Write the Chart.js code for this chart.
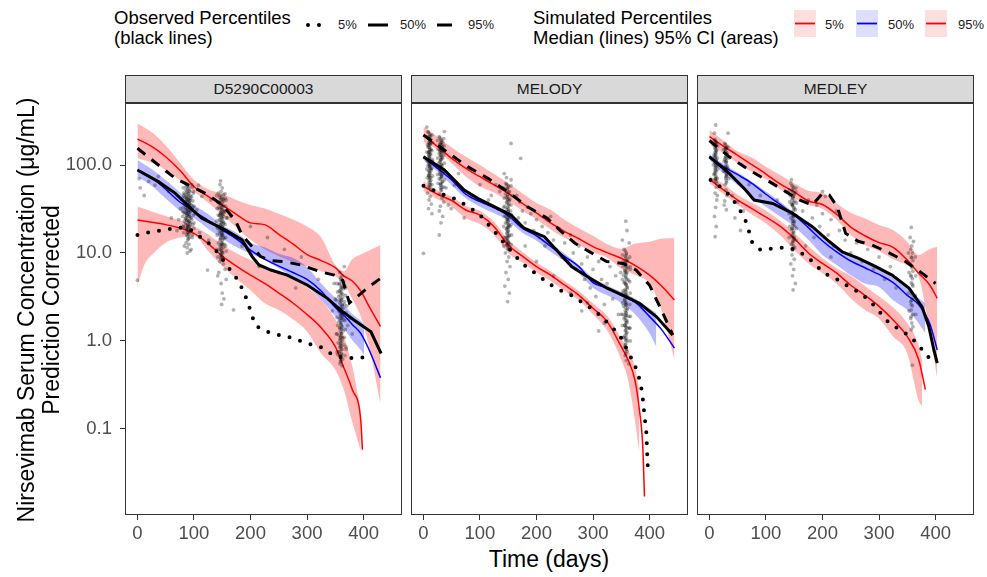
<!DOCTYPE html>
<html>
<head>
<meta charset="utf-8">
<script src="https://cdn.jsdelivr.net/npm/chart.js@4.4.0/dist/chart.umd.min.js"></script>
<style>
  body { margin:0; width:987px; height:577px; background:#fff; position:relative; overflow:hidden;
         font-family:"Liberation Sans", Arial, sans-serif; }
  canvas { position:absolute; }
  .t { position:absolute; white-space:nowrap; color:#000; }
  .strip { position:absolute; top:75px; height:28px; background:#d9d9d9; border:1px solid #333;
           box-sizing:border-box; color:#1a1a1a; font-size:15.5px; text-align:center; line-height:26px; }
</style>
</head>
<body>
<div id="root"></div>
<script>
// ---------------- data ----------------
const panelNames = ['D5290C00003', 'MELODY', 'MEDLEY'];
const xTickValues = [0, 100, 200, 300, 400];
const yTickValues = [0.1, 1, 10, 100];
const yTickLabels = ['0.1', '1.0', '10.0', '100.0'];

// ----- Panel 1: D5290C00003 -----
const p1SimDays = [0,25,50,75,100,125,150,175,200,225,250,275,300,325,350,365,380,395,410,430];
const p1Sim95Med = [197,163,124,87,57,44,35,27.5,22,21,16.3,12.7,9.6,8.2,6.8,5.5,4.8,3.7,2.45,1.46];
const p1Sim95Hi  = [297,237,167,107,68,53,47,40,35,32,28,24,20,15,7.3,6.2,8.5,9.6,10.7,12.3];
const p1Sim95Lo  = [119,106,88,67,50,37.3,27.4,19.4,14.1,11.0,9.2,7.9,7.0,6.2,5.4,4.6,3.0,1.9,0.85,0.19];
const p1Sim50Med = [87.8,71.8,53,38,29.6,23.5,18.2,14.5,10.8,8.5,7.1,6.0,5.0,3.7,2.4,1.96,1.54,1.22,0.79,0.38];
const p1Band50Days = [0,25,50,75,100,125,150,175,200,225,250,275,300,325,350,365,380,395,401];
const p1Sim50Hi = [114,90,67.6,48.9,35,27.7,20.7,17.0,13.1,11.6,9.8,8.8,6.9,4.5,3.1,2.6,2.03,1.70,1.52];
const p1Sim50Lo = [73.6,58,41.5,30.3,24.8,18.9,14.6,11.7,9.8,8.3,6.7,5.3,4.2,2.9,1.89,1.39,1.02,0.79,0.69];
const p1Sim5Days = [0,25,50,75,100,125,150,175,200,225,250,275,300,325,350,365,380,395,398];
const p1Sim5Med = [23.7,22.3,21,19.2,16.7,12.8,9.2,7.1,5.6,4.5,3.5,2.7,2.0,1.41,0.86,0.50,0.28,0.126,0.058];
const p1Band5Days = [0,13,25,50,75,100,125,150,175,200,225,250,275,300,325,350,365,380,395];
const p1Sim5Hi = [33.6,31.7,29.7,26.4,23.5,20.1,16.2,12.4,9.9,8.3,7.1,6.0,5.0,4.1,2.9,1.77,1.14,0.52,0.166];
const p1Sim5Lo = [4.3,7.5,9.4,13.1,15.0,15.7,10.5,7.1,5.1,3.77,2.68,2.25,1.76,1.28,0.72,0.47,0.28,0.12,0.057];
const p1Obs95Days = [0,37,67,96,126,150,173,185,203,218,236,259,289,324,348,363,375,389,413,431];
const p1Obs95 = [155,100,70.5,56.8,45.6,35,23.7,16,11.8,9.1,8.2,8.0,7.3,6.1,5.6,4.9,2.7,3.2,4.3,5.2];
const p1Obs50Days = [0,37,67,91,114,156,185,203,215,236,265,301,336,359,383,413,431];
const p1Obs50 = [87.8,64.7,47.6,33.6,24.8,18.2,14.1,9.1,7.3,6.4,5.6,4.3,3.05,2.25,1.73,1.27,0.72];
const p1Obs5Days = [0,25,48,71,93,109,125,141,162,178,188,196,203,211,236,265,301,324,345,366,386,410];
const p1Obs5 = [16.0,17.5,18.2,19.6,18.6,15.6,13.1,10.3,6.7,4.9,3.6,2.68,1.89,1.46,1.22,1.12,0.94,0.85,0.70,0.64,0.64,0.66];
const p1Points = [
  [0,4.9],[3,70],[5,55],[12,45],[20,65],[31,59],[37,74],[55,50],[70,18],[73,24],[76,32],[60,25],
  [85,62],[88,58],[91,55],[86,52],[93,50],[89,48],[84,46],[90,44],[94,42],[87,41],[92,39],[85,38],
  [89,36],[95,35],[88,34],[91,33],[86,31],[93,30],[90,29],[84,28],[88,27],[92,26],[95,25],[87,24],
  [90,23],[85,22],[93,21.5],[89,21],[91,20],[86,19],[94,18.5],[88,18],[90,17],[87,16],[92,15],[89,14],
  [86,13],[91,12.5],[88,11.5],[93,10.5],[87,44],[90,40],[92,36],[88,30],[86,25],[91,23],[89,19.5],
  [86,57],[89,53],[92,51],[87,49],[90,47],[93,45],[85,43],[88,42],[91,41],[94,40],[86,39],[89,38],[92,37],
  [87,35.5],[90,34.5],[93,33.5],[85,32.5],[88,31.5],[91,30.5],[94,29.5],[86,28.5],[89,28],[92,27.5],[87,26.5],
  [90,26],[93,25],[85,24.5],[88,23.5],[91,22.5],[94,22],[86,21],[89,20.5],[92,20],[87,19],[90,18.5],[93,17.5],
  [88,17],[91,16.5],[89,15.5],[90,14.5],
  [81,55],[82,48],[80,42],[83,37],[81,33],[82,29],[80,26],[83,23],[81,20],[82,17],[97,56],[99,50],[96,44],
  [98,39],[100,34],[97,31],[99,27],[96,24],[98,21],[100,19],[97,16],
  [80,30],[82,45],[98,33],[100,22],[97,15],[83,12],[96,60],[99,48],[81,20],[95,11],[88,10],[102,28],
  [108,59],[114,44],[105,31],[120,24],[126,14],[110,17],[130,40],[124,6.4],
  [146,60],[150,55],[148,50],[152,46],[145,43],[149,41],[153,39],[147,37],[151,35],[144,33],[150,31],
  [154,30],[148,28],[146,27],[152,26],[149,25],[145,24],[151,23],[153,22],[147,21],[150,20],[148,19],
  [152,18],[145,17.5],[149,17],[151,16],[147,15],[153,14.5],[146,14],[150,13],[148,12],[152,11.5],
  [145,11],[149,10.5],[151,10],[147,9.5],[150,9],[148,8.5],[146,8],[152,7.5],[149,33],[147,29],[151,27],
  [148,22],[150,16],[149,12.5],
  [146,45],[149,43],[152,41],[147,40],[150,38],[145,36],[148,35],[151,34],[146,32],[149,31],[152,29.5],
  [147,28.5],[150,27.5],[145,26.5],[148,25.5],[151,24.5],[146,23.5],[149,22.5],[152,21.5],[147,20.5],
  [150,19.5],[145,19],[148,18],[151,17.5],[146,16.5],[149,16],[152,15],[147,14.5],[150,14],[148,13],
  [151,12.5],[146,12],[149,11.2],[147,10.8],[150,10.2],[148,9.8],[149,9.2],[147,8.8],
  [140,45],[142,38],[141,32],[143,27],[140,23],[142,19],[141,16],[143,13],[140,11],[142,9],[155,47],[157,40],
  [156,34],[154,29],[158,25],[155,21],[157,18],[156,15],[154,12.5],[157,10.5],
  [142,5.5],[155,6.5],[148,4.5],[150,3.5],[157,5],[144,6],[153,3],[149,2.6],[156,12],[141,20],[158,25],
  [143,48],[155,42],[147,66],
  [165,26],[175,15],[185,12],[170,2.25],[200,20],[230,15],[260,11],[290,9],[320,5],[250,6],[280,4],[215,7],
  [358,6],[362,5.5],[360,5],[365,4.7],[357,4.4],[361,4.1],[364,3.9],[359,3.6],[363,3.4],[356,3.2],[360,3.0],
  [366,2.8],[358,2.7],[362,2.5],[364,2.35],[357,2.2],[361,2.05],[359,1.95],[363,1.85],[365,1.75],[356,1.65],
  [360,1.55],[362,1.45],[358,1.38],[364,1.3],[361,1.22],[357,1.15],[363,1.08],[359,1.02],[360,0.95],[365,0.9],
  [358,0.85],[362,0.8],[356,0.75],[361,0.7],[359,0.66],[363,0.62],[360,0.58],[358,0.55],[362,0.52],
  [360,3.8],[361,2.9],[359,2.3],[360,1.8],[361,1.4],[360,1.1],[359,0.88],
  [359,5.2],[361,4.8],[358,4.5],[362,4.2],[360,4.0],[357,3.7],[361,3.5],[359,3.3],[363,3.1],[358,2.95],
  [360,2.8],[362,2.6],[359,2.45],[361,2.3],[357,2.15],[360,2.0],[362,1.9],[358,1.8],[361,1.7],[359,1.6],
  [360,1.5],[358,1.42],[362,1.35],[359,1.27],[361,1.2],[360,1.12],[358,1.05],[362,1.0],[359,0.93],[361,0.87],
  [360,0.81],[358,0.76],[361,0.72],[359,0.68],[360,0.63],[359,0.59],
  [353,4.5],[354,3.6],[352,2.9],[355,2.3],[353,1.85],[354,1.5],[352,1.2],[355,0.95],[353,0.75],[367,4.2],
  [368,3.3],[366,2.6],[369,2.1],[367,1.7],[368,1.35],[366,1.1],[369,0.85],[367,0.68],
  [350,3],[370,2.5],[372,1.5],[368,4],[353,1.2],[375,1.8],[348,4.5],[366,7],[369,0.8],[354,0.7],[380,1.2],[345,2.2]
];

// ----- Panel 2: MELODY -----
const p2SimDays = [0,25,50,75,100,125,150,175,200,225,250,275,300,325,350,375,400,420,444];
const p2Sim95Med = [219,162,119,91.6,73.6,59.4,47.6,36.6,28.5,22.0,17.5,14.5,11.8,10.1,8.7,7.2,5.6,4.3,2.92];
const p2Sim95Hi  = [273,210,158,124,100,79,62,47.6,37,31,23.7,19.1,15.7,12.6,11.2,12.8,13.4,14.5,14.8];
const p2Sim95Lo  = [184,148,104,74,57,48.5,39,30.3,24.2,18.5,14.8,12.3,10.1,8.9,6.6,5.6,4.5,2.35,0.61];
const p2Sim50Med = [122,91.6,67.6,46.5,38.3,32.5,26.5,19.1,15.7,11.9,9.1,7.0,4.6,4.0,3.3,2.75,1.89,1.38,0.83];
const p2Band50Days = [0,25,50,75,100,125,150,175,200,225,250,275,300,325,350,375,400,412];
const p2Sim50Hi = [130,99,72,51,42,35,28.2,20.8,16.7,12.9,9.8,7.3,5.2,4.3,3.6,3.0,2.35,2.06];
const p2Sim50Lo = [114,84,59,41.8,33.6,28.2,23.3,17.0,13.8,10.3,8.0,5.9,4.0,3.3,2.7,2.0,1.22,0.86];
const p2Sim5Days = [0,25,50,75,100,125,150,175,200,225,250,275,300,325,350,362,374,382,388,391];
const p2Sim5Med = [57,46.5,39.5,30.8,26.9,19.9,12.3,9.2,7.0,5.6,4.3,3.3,2.35,1.66,0.86,0.61,0.36,0.165,0.063,0.017];
const p2Band5Days = [0,25,50,75,100,125,150,175,200,225,250,275,300,325,350,362,374,382];
const p2Sim5Hi = [65.7,51.5,43.6,34.5,30.3,22.7,14.1,10.3,7.8,6.2,4.8,3.7,2.68,1.93,1.07,0.79,0.51,0.28];
const p2Sim5Lo = [51,40.7,33.6,24.8,21.3,16.0,10.0,7.8,6.0,4.8,3.7,2.86,2.0,1.31,0.61,0.36,0.126,0.053];
const p2Obs95Days = [0,37,78,114,149,184,219,244,268,294,324,353,376,400,421,441];
const p2Obs95 = [219,148,95.8,70.5,49.8,33.6,24.8,17.5,12.9,10.3,8.0,7.6,6.4,4.3,2.25,1.17];
const p2Obs50Days = [0,37,72,96,125,155,178,214,238,262,294,324,353,382,412,441];
const p2Obs50 = [124,87.8,52,41.8,33.6,27.1,19.1,15.3,10.3,7.0,5.2,4.0,3.3,2.68,1.89,1.17];
const p2Obs5Days = [0,37,61,81,99,115,131,146,169,185,203,221,241,262,279,297,315,329,347,365,374,381,386,389,391,394,396,397];
const p2Obs5 = [58,45.6,40,33,27.5,21.0,16.0,12.3,8.3,6.7,5.6,4.5,3.8,3.3,2.8,2.35,1.89,1.52,1.17,0.69,0.53,0.39,0.28,0.196,0.14,0.1,0.049,0.036];
const p2Points = [
  [8,240],[11,225],[9,205],[13,195],[10,180],[12,170],[8,160],[14,150],[10,142],[12,135],[9,128],[11,120],
  [13,112],[10,105],[8,98],[12,92],[14,88],[11,82],[9,77],[13,72],[10,68],[12,64],[11,60],[9,56],[13,52],
  [10,200],[11,150],[10,118],[11,95],[10,75],[12,110],[9,140],[11,175],
  [9,235],[12,215],[10,198],[11,188],[13,178],[9,168],[11,158],[12,148],[10,138],[13,131],[11,124],[9,116],
  [12,108],[10,101],[11,96],[13,90],[9,86],[12,80],[10,76],[11,71],[13,67],[10,63],[12,59],[11,55],[10,130],
  [12,100],[11,85],[10,160],[12,190],[11,210],
  [6,210],[7,170],[6,140],[7,110],[6,90],[7,72],[15,220],[16,180],[15,145],[16,115],[15,92],[16,75],[15,60],
  [7,48],[12,44],[10,40],[14,36],[9,32],[15,28],[6,270],[16,110],[0,9.9],
  [28,210],[31,195],[34,182],[29,170],[33,160],[30,150],[35,142],[28,135],[32,128],[34,120],[30,112],[27,105],
  [33,98],[31,92],[29,86],[35,80],[32,75],[28,70],[34,65],[30,60],[33,56],[31,52],
  [31,180],[32,145],[31,115],[30,90],[32,72],[31,62],[30,125],
  [29,205],[32,190],[30,176],[33,165],[31,155],[29,146],[32,138],[30,130],[33,122],[31,116],[29,108],[32,102],
  [30,96],[33,90],[31,84],[29,79],[32,74],[30,69],[33,64],[31,59],[30,55],[32,52],[31,100],[30,140],[32,170],[31,78],
  [25,190],[26,150],[25,120],[26,95],[25,78],[26,62],[36,200],[37,165],[36,130],[37,105],[36,85],[37,68],[36,56],
  [29,47],[33,42],[36,38],[30,34],[28,30],[34,26],[31,22],[28,16],[37,240],[40,55],[44,35],
  [55,59],[72,25],[49,32],[62,80],[85,45],[100,60],[115,40],[128,60],[120,45],[135,50],
  [146,62],[150,58],[148,54],[152,50],[145,47],[149,44],[153,41],[147,38],[151,36],[144,34],[150,32],[154,30],
  [148,28],[146,26],[152,25],[149,23],[145,22],[151,21],[153,20],[147,19],[150,18],[148,17],[152,16],[146,15],
  [149,14],[151,13],[147,12.3],[153,11.6],[150,11],[149,40],[150,30],[149,24],[150,19.5],[149,15.5],[150,12.8],
  [147,60],[150,56],[148,52],[151,49],[149,46],[147,43],[150,41],[152,39],[148,37],[151,35],[149,33],[147,31],
  [150,29.5],[148,28],[151,26.5],[149,25],[147,24],[150,22.5],[148,21.5],[151,20.5],[149,19.5],[147,18.5],
  [150,17.5],[148,16.5],[151,15.5],[149,14.8],[147,14],[150,13.3],[148,12.6],[149,12],[150,11.4],
  [142,55],[143,42],[142,33],[143,26],[142,20],[143,15],[142,12],[155,58],[156,45],[155,35],[156,27],[155,21],
  [156,16],[155,12.5],
  [145,10],[151,9],[148,8],[153,7],[146,6],[150,5],[144,4.2],[152,3.5],[149,2.8],[155,176],[147,72],[155,68],[143,80],
  [172,119],[165,45],[170,38],[175,30],[168,25],[180,22],[185,33],[190,28],[195,18],[200,24],[205,15],[210,20],
  [215,12],[220,17],[225,26],[230,14],[235,11],[240,19],[245,9],[250,13],[255,8],[260,16],[265,10],[270,6.5],
  [275,12],[280,7.5],[285,5],[290,9],[295,4],[300,6.5],[305,3.2],[310,8],[315,5],[320,2.6],[325,4.5],[330,7],
  [335,3],[340,5.5],[345,2],[180,12],[200,8],[230,5.5],[260,3.5],[290,2.7],[320,1.6],[310,1.3],[280,2.2],
  [355,11],[359,10],[357,9.2],[361,8.5],[353,8],[358,7.4],[362,6.9],[356,6.4],[360,6],[354,5.6],[358,5.2],
  [363,4.9],[355,4.6],[359,4.3],[361,4],[357,3.7],[353,3.5],[360,3.3],[362,3.1],[356,2.9],[358,2.7],[354,2.5],
  [361,2.35],[357,2.2],[359,2.05],[363,1.9],[355,1.8],[360,1.7],[358,1.6],[356,1.5],[362,1.4],[357,1.3],
  [359,1.2],[355,1.1],[361,1.0],[358,0.92],[356,0.85],[360,0.76],[357,0.68],[359,0.6],
  [358,8],[357,6],[358,4.5],[357,3.4],[358,2.6],[357,1.95],[358,1.45],[357,1.05],
  [357,10.5],[359,9.6],[358,8.8],[360,8.1],[356,7.6],[358,7.0],[360,6.6],[357,6.2],[359,5.8],[358,5.4],[360,5.0],
  [356,4.7],[358,4.4],[360,4.1],[357,3.85],[359,3.6],[358,3.35],[360,3.15],[356,2.95],[358,2.75],[359,2.55],
  [357,2.4],[360,2.25],[358,2.1],[359,1.95],[357,1.85],[358,1.72],[360,1.62],[357,1.52],[359,1.42],[358,1.33],
  [360,1.25],[357,1.16],[359,1.08],[358,1.0],[357,0.9],[359,0.8],[358,0.72],
  [352,9.5],[353,7],[352,5],[353,3.7],[352,2.7],[353,2],[352,1.5],[353,1.1],[365,9],[366,6.5],[365,4.7],
  [366,3.5],[365,2.6],[366,1.9],[365,1.4],[366,1.0],
  [358,23],[360,18],[352,14],[364,13],[366,7],[349,6],[367,3],[350,2],[365,1.4],[363,0.55]
];

// ----- Panel 3: MEDLEY -----
const p3SimDays = [0,25,50,75,100,125,150,175,200,225,250,275,300,325,350,370,390,403];
const p3Sim95Med = [210,163,129,101,79,61,49.4,39,35.6,27.5,19.7,15.7,13.1,11.6,8.3,5.9,4.3,3.05];
const p3Sim95Hi  = [250,189,142,122,95.8,77,61.9,51,48,36.6,28.7,24.8,20.8,18.1,13.4,9.5,11.1,11.8];
const p3Sim95Lo  = [176,135,104,84,69,53,41.8,35,31.8,23.7,16.0,12.3,10.5,8.5,7.2,5.4,1.22,0.37];
const p3Sim50Med = [126,95.8,77.6,61.9,46.5,35.6,27.1,19.4,13.7,10.3,8.1,6.8,5.7,4.6,3.3,2.6,1.56,0.79];
const p3Band50Days = [0,25,50,75,100,125,150,175,200,225,250,275,300,325,350,370,382];
const p3Sim50Hi = [133,102,82,64.6,50,38.3,28.7,20.8,15.3,11.8,9.5,8.3,7.0,5.4,4.0,3.05,2.68];
const p3Sim50Lo = [115,80,59,43.6,33.6,25.9,19.9,14.1,9.5,7.3,5.6,4.5,4.1,2.9,2.25,1.59,1.22];
const p3Sim5Days = [0,25,50,75,100,125,150,175,200,225,250,275,300,325,350,370,382];
const p3Sim5Med = [69,52,40,32,25.5,20.2,14.6,10.0,7.6,5.9,4.3,3.3,2.47,1.73,1.12,0.62,0.28];
const p3Band5Days = [0,25,50,75,100,125,150,175,200,225,250,275,300,325,350,370,376];
const p3Sim5Hi = [75,61,46,37.3,30.3,23.3,17.0,12.0,8.7,6.7,5.5,4.2,3.2,2.4,1.59,0.90,0.61];
const p3Sim5Lo = [61.9,46.7,35,27.4,21.7,16.0,10.8,7.6,5.9,4.5,3.05,2.25,1.8,1.12,0.72,0.21,0.18];
const p3Obs95Days = [0,35,70,106,135,159,182,200,212,226,241,264,288,317,347,376,400];
const p3Obs95 = [190,124,87.8,64.7,49.8,40,35,47.6,45.6,33.6,16.7,13.5,12.3,10.1,8.0,5.9,4.5];
const p3Obs50Days = [0,35,64,79,112,147,182,212,235,264,294,323,353,376,388,397,403];
const p3Obs50 = [124,80.4,52,40,36.6,28.2,19.9,13.5,10.3,8.7,7.0,5.6,4.0,2.45,1.46,0.79,0.56];
const p3Obs5Days = [2,23,38,51,63,70,76,91,114,138,153,173,188,203,229,247,267,285,303,317,338,356,369,385,397];
const p3Obs5 = [67.6,54.5,43.6,33,24.2,17.5,12.9,10.8,11.3,11.6,10.8,9.1,7.3,5.9,4.9,4.1,3.5,2.8,2.06,1.62,1.33,1.12,0.9,0.69,0.53];
const p3Points = [
  [9,190],[12,175],[10,160],[13,148],[11,136],[9,125],[12,115],[10,105],[13,96],[11,88],[9,80],[12,73],[10,67],[13,62],
  [11,180],[10,140],[11,110],[10,85],[11,70],
  [10,195],[12,182],[11,168],[10,155],[12,143],[11,131],[10,120],[12,110],[11,100],[10,92],[12,84],[11,77],
  [10,70],[12,65],[11,150],[11,125],[11,95],
  [7,170],[8,130],[7,100],[8,78],[15,165],[14,120],[15,90],[14,70],
  [11,285],[9,230],[12,56],[10,48],[13,40],[11,33],[9,26],[12,20],[10,15.3],[14,45],
  [27,176],[30,162],[28,150],[31,138],[29,126],[27,116],[30,106],[32,97],[28,88],[31,80],[29,73],[30,66],[28,60],
  [29,155],[30,120],[29,95],[30,75],
  [28,170],[30,156],[29,144],[31,132],[28,121],[30,111],[29,101],[31,92],[28,84],[30,77],[29,70],[30,63],
  [29,135],[29,110],
  [25,150],[26,110],[25,85],[33,160],[34,120],[33,90],[34,70],
  [29,52],[31,45],[27,39],[30,31],[33,230],[26,35],
  [40,45],[50,38],[60,30],[20,100],[45,25],[55,18],[70,60],[90,45],[120,40],
  [144,62],[148,57],[146,52],[150,48],[143,45],[147,42],[151,39],[145,36],[149,33],[152,31],[146,29],[148,27],
  [144,25],[150,23],[147,21.5],[151,20],[145,18.5],[149,17],[146,15.5],[150,14.5],[148,13.5],[145,12.5],
  [151,11.5],[147,10.8],[148,44],[147,35],[148,26],[147,19],[148,15],
  [146,58],[149,54],[147,50],[150,46],[148,43],[146,40],[149,37.5],[147,34.5],[150,32],[148,30],[146,28],
  [149,26],[147,24],[150,22],[148,20.5],[146,19],[149,17.8],[147,16.5],[150,15.2],[148,14],[147,13],[149,12],
  [148,11.2],[147,36],[148,23],
  [141,52],[142,38],[141,28],[142,20],[141,15],[153,50],[154,37],[153,27],[154,19],[153,14],
  [146,9.5],[150,8.5],[144,7.5],[149,6.5],[147,5.5],[152,4.5],[148,3.8],[145,68],[153,55],
  [165,30],[175,40],[182,25],[190,35],[195,20],[200,28],[205,44],[210,16],[215,24],[220,12],[225,30],[230,18],
  [240,14],[250,10],[260,13],[270,8],[280,11],[290,6.5],[300,9],[310,5],[320,7],[330,4],[185,15],[170,12],
  [200,50],[215,9],
  [357,19.5],[355,15],[361,13.5],[356,11],[359,10],[357,9],[360,8.2],[355,7.5],[358,6.8],[360,6.2],[356,5.6],
  [359,5.1],[357,4.6],[360,4.2],[355,3.8],[358,3.4],[360,3.1],[356,2.8],[359,2.5],[357,2.25],[360,2.0],
  [356,1.8],[358,1.6],[360,1.45],[357,1.34],[359,0.53],[358,8.8],[357,5.4],[358,3.6],[357,2.6],
  [358,12],[357,7.2],[359,4.4],[358,2.9],[357,1.9],
  [352,10],[353,6],[352,3.5],[353,2.2],[364,9],[365,5.5],[364,3.3],[365,2.0]
];

// ---------------- rendering ----------------
const FONT = "'Liberation Sans', Arial, sans-serif";
const xy = (xs, ys) => xs.map((x, i) => ({ x: x, y: ys[i] }));
const pr = (arr) => arr.map(p => ({ x: p[0], y: p[1] }));

const panels = [
  { name: panelNames[0], left: 0, width: 402, showY: true,
    simDays: p1SimDays, s95: p1Sim95Med, s95hi: p1Sim95Hi, s95lo: p1Sim95Lo, s50: p1Sim50Med,
    b50d: p1Band50Days, s50hi: p1Sim50Hi, s50lo: p1Sim50Lo, s5d: p1Sim5Days, s5: p1Sim5Med,
    b5d: p1Band5Days, s5hi: p1Sim5Hi, s5lo: p1Sim5Lo,
    o95: xy(p1Obs95Days, p1Obs95), o50: xy(p1Obs50Days, p1Obs50), o5: xy(p1Obs5Days, p1Obs5), pts: pr(p1Points) },
  { name: panelNames[1], left: 411, width: 277, showY: false,
    simDays: p2SimDays, s95: p2Sim95Med, s95hi: p2Sim95Hi, s95lo: p2Sim95Lo, s50: p2Sim50Med,
    b50d: p2Band50Days, s50hi: p2Sim50Hi, s50lo: p2Sim50Lo, s5d: p2Sim5Days, s5: p2Sim5Med,
    b5d: p2Band5Days, s5hi: p2Sim5Hi, s5lo: p2Sim5Lo,
    o95: xy(p2Obs95Days, p2Obs95), o50: xy(p2Obs50Days, p2Obs50), o5: xy(p2Obs5Days, p2Obs5), pts: pr(p2Points) },
  { name: panelNames[2], left: 697, width: 277, showY: false,
    simDays: p3SimDays, s95: p3Sim95Med, s95hi: p3Sim95Hi, s95lo: p3Sim95Lo, s50: p3Sim50Med,
    b50d: p3Band50Days, s50hi: p3Sim50Hi, s50lo: p3Sim50Lo, s5d: p3Sim5Days, s5: p3Sim5Med,
    b5d: p3Band5Days, s5hi: p3Sim5Hi, s5lo: p3Sim5Lo,
    o95: xy(p3Obs95Days, p3Obs95), o50: xy(p3Obs50Days, p3Obs50), o5: xy(p3Obs5Days, p3Obs5), pts: pr(p3Points) }
];

const boxPlugin = {
  id: 'box',
  afterDraw(chart) {
    const a = chart.chartArea, c = chart.ctx;
    c.save(); c.strokeStyle = '#333'; c.lineWidth = 1;
    c.strokeRect(a.left + 0.5, a.top + 0.5, a.right - a.left - 1, a.bottom - a.top - 1);
    c.restore();
  }
};

const RED = '#ff0000', BLUE = '#0000ff';
const PINK = 'rgba(255,0,0,0.28)', LBLUE = 'rgba(0,0,255,0.28)';
const NONE = 'rgba(0,0,0,0)';

function line(data, color, width, extra) {
  return Object.assign({ data: data, borderColor: color, borderWidth: width, pointRadius: 0,
    fill: false, tension: 0 }, extra || {});
}

function build(P) {
  const ds = [];
  ds.push(line(P.o5, '#000', 4, { borderDash: [0, 11], borderCapStyle: 'round' }));
  ds.push(line(P.o50, '#000', 3));
  ds.push(line(P.o95, '#000', 3, { borderDash: [10, 8] }));
  ds.push({ data: P.pts, showLine: false, pointRadius: 1.9, pointBorderWidth: 0,
            pointBackgroundColor: 'rgba(0,0,0,0.3)' });
  const smooth = { cubicInterpolationMode: 'monotone' };
  ds.push(line(xy(P.s5d, P.s5), RED, 1.5, smooth));
  ds.push(line(xy(P.simDays, P.s50), BLUE, 1.5, smooth));
  ds.push(line(xy(P.simDays, P.s95), RED, 1.5, smooth));
  ds.push(line(xy(P.b5d, P.s5lo), NONE, 0, smooth));
  ds.push(line(xy(P.b5d, P.s5hi), NONE, 0, Object.assign({ fill: '-1', backgroundColor: PINK }, smooth)));
  ds.push(line(xy(P.b50d, P.s50lo), NONE, 0, smooth));
  ds.push(line(xy(P.b50d, P.s50hi), NONE, 0, Object.assign({ fill: '-1', backgroundColor: LBLUE }, smooth)));
  ds.push(line(xy(P.simDays, P.s95lo), NONE, 0, smooth));
  ds.push(line(xy(P.simDays, P.s95hi), NONE, 0, Object.assign({ fill: '-1', backgroundColor: PINK }, smooth)));
  return ds;
}

function zeroPad(s) { s.paddingTop = 0; s.paddingBottom = 0; s.paddingLeft = 0; s.paddingRight = 0; }

const root = document.getElementById('root');
panels.forEach((P, idx) => {
  const cv = document.createElement('canvas');
  cv.width = P.width; cv.height = 442;
  cv.style.left = P.left + 'px'; cv.style.top = '103px';
  cv.style.width = P.width + 'px'; cv.style.height = '442px';
  root.appendChild(cv);

  const strip = document.createElement('div');
  strip.className = 'strip';
  const chartLeft = P.showY ? 125 : P.left;
  strip.style.left = chartLeft + 'px';
  strip.style.width = (P.left + P.width - chartLeft) + 'px';
  strip.textContent = P.name;
  root.appendChild(strip);

  new Chart(cv, {
    type: 'line',
    data: { datasets: build(P) },
    plugins: [boxPlugin],
    options: {
      responsive: false, animation: false, devicePixelRatio: 1, events: [],
      layout: { padding: 0, autoPadding: false },
      plugins: { legend: { display: false }, tooltip: { enabled: false } },
      scales: {
        x: {
          type: 'linear', min: -22, max: 468,
          afterBuildTicks: s => { s.ticks = xTickValues.map(v => ({ value: v })); },
          afterFit: s => { s.height = 30; zeroPad(s); },
          ticks: { color: '#4d4d4d', font: { family: FONT, size: 18.5 }, padding: 3,
                   maxRotation: 0, autoSkip: false, callback: v => String(v) },
          grid: { display: true, drawOnChartArea: false, drawTicks: true, tickLength: 5, color: '#333', lineWidth: 1 },
          border: { display: false }
        },
        y: {
          type: 'logarithmic', min: 0.0105, max: 507, display: P.showY,
          afterBuildTicks: s => { s.ticks = yTickValues.map(v => ({ value: v })); },
          afterFit: s => { if (P.showY) s.width = 125; else s.width = 0; zeroPad(s); },
          ticks: { color: '#4d4d4d', font: { family: FONT, size: 18.5 }, padding: 8,
                   callback: (v) => { const i = yTickValues.indexOf(v); return i >= 0 ? yTickLabels[i] : ''; } },
          grid: { display: true, drawOnChartArea: false, drawTicks: true, tickLength: 5, color: '#333', lineWidth: 1 },
          border: { display: false }
        }
      }
    }
  });
});
</script>

<!-- axis titles -->
<div class="t" style="left:549px; top:559px; font-size:23px; transform:translate(-50%,-50%);">Time (days)</div>
<div class="t" style="left:26px; top:310px; font-size:23px; transform:translate(-50%,-50%) rotate(-90deg);">Nirsevimab Serum Concentration (μg/mL)</div>
<div class="t" style="left:51px; top:310px; font-size:23px; transform:translate(-50%,-50%) rotate(-90deg);">Prediction Corrected</div>

<!-- legend -->
<div class="t" style="left:114px; top:8px; font-size:18.5px; line-height:20px;">Observed Percentiles<br>(black lines)</div>
<div class="t" style="left:533px; top:8px; font-size:18.5px; line-height:20px;">Simulated Percentiles<br>Median (lines) 95% CI (areas)</div>
<svg style="position:absolute;left:0;top:0" width="987" height="60">
  <line x1="308" y1="25" x2="320" y2="25" stroke="#000" stroke-width="4" stroke-linecap="round" stroke-dasharray="0 11"/>
  <line x1="368" y1="25" x2="388" y2="25" stroke="#000" stroke-width="3"/>
  <line x1="437" y1="25" x2="452" y2="25" stroke="#000" stroke-width="3"/>
  <rect x="794" y="10" width="22" height="27" fill="rgba(255,0,0,0.13)"/>
  <line x1="795" y1="23.5" x2="815" y2="23.5" stroke="#ff0000" stroke-width="1.8"/>
  <rect x="856" y="10" width="22" height="27" fill="rgba(0,0,255,0.13)"/>
  <line x1="857" y1="23.5" x2="877" y2="23.5" stroke="#0000ff" stroke-width="1.8"/>
  <rect x="925" y="10" width="22" height="27" fill="rgba(255,0,0,0.13)"/>
  <line x1="926" y1="23.5" x2="946" y2="23.5" stroke="#ff0000" stroke-width="1.8"/>
</svg>
<div class="t" style="left:338px; top:17px; font-size:13px; color:#1a1a1a;">5%</div>
<div class="t" style="left:400px; top:17px; font-size:13px; color:#1a1a1a;">50%</div>
<div class="t" style="left:468px; top:17px; font-size:13px; color:#1a1a1a;">95%</div>
<div class="t" style="left:825px; top:17px; font-size:13px; color:#1a1a1a;">5%</div>
<div class="t" style="left:888px; top:17px; font-size:13px; color:#1a1a1a;">50%</div>
<div class="t" style="left:958px; top:17px; font-size:13px; color:#1a1a1a;">95%</div>
</body>
</html>
